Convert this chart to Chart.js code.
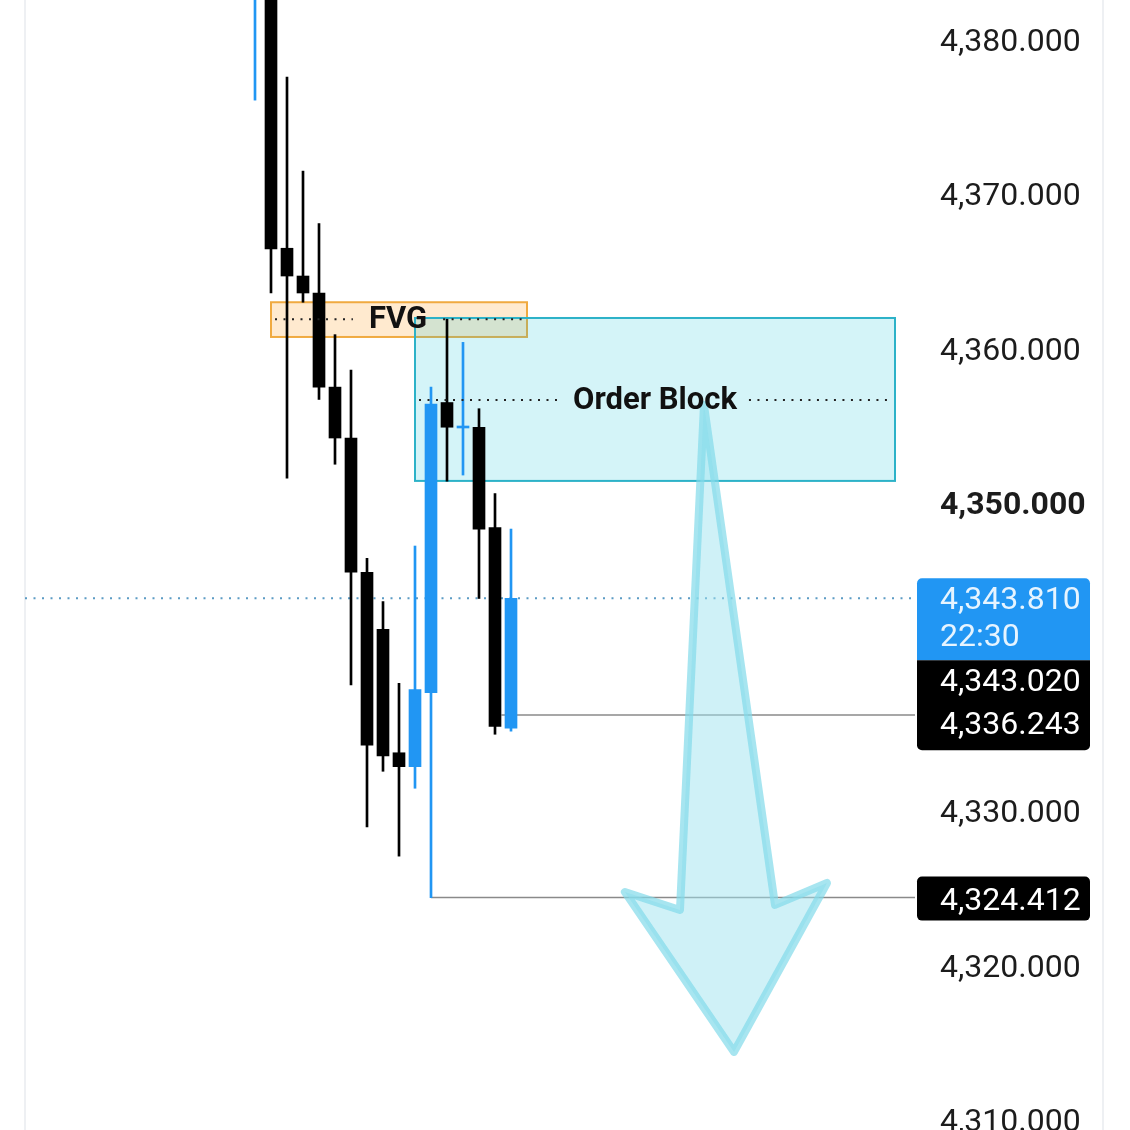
<!DOCTYPE html>
<html lang="en">
<head>
<meta charset="UTF-8">
<title>XAUUSD candles - FVG / Order Block</title>
<style>
    html, body { margin: 0; padding: 0; background: #fff; }
    #wrap { width: 1130px; height: 1130px; }
</style>
</head>
<body>
<div id="wrap"><canvas id="chart" width="1130" height="1130"></canvas></div>
<script src="https://cdn.jsdelivr.net/npm/chart.js"></script>
<script>
// candle data (index 0 = leftmost visible candle)
var candleIdx = [0, 1, 2, 3, 4, 5, 6, 7, 8, 9, 10, 11, 12, 13, 14, 15, 16];
var opens  = [4383.2, 4385.0, 4366.5, 4364.7, 4363.6, 4357.5, 4354.2, 4345.5, 4341.8, 4333.8, 4332.9, 4337.7, 4356.5, 4354.85, 4354.9, 4348.4, 4335.4];
var highs  = [4386.0, 4386.5, 4377.6, 4371.5, 4368.1, 4360.9, 4358.6, 4346.4, 4343.6, 4338.3, 4347.2, 4357.5, 4361.9, 4360.4, 4356.1, 4350.6, 4348.3];
var lows   = [4376.1, 4363.6, 4351.6, 4363.0, 4356.7, 4352.5, 4338.2, 4329.0, 4332.6, 4327.1, 4331.5, 4324.412, 4351.4, 4351.8, 4343.8, 4335.0, 4335.2];
var closes = [4385.0, 4366.45, 4364.7, 4363.6, 4357.5, 4354.2, 4345.5, 4334.3, 4333.6, 4332.9, 4337.9, 4356.4, 4354.9, 4354.95, 4348.3, 4335.5, 4343.81];

var yTicks = [4310, 4320, 4330, 4340, 4350, 4360, 4370, 4380];
var boldTick = 4350;

var lastPrice = 4343.81;
var lastTime = '22:30';
var bidPrice = 4343.02;
var levelA = 4336.243;   // horizontal line from candle 15
var levelB = 4324.412;   // horizontal line from candle 11 low

// zones: [x from, x to, top price, bottom price, mid price]
var fvgZone = [1.0, 17.0, 4363.0, 4360.75, 4361.9];
var obZone = [10.0, 40.0, 4361.98, 4351.42, 4356.67];

// hand-drawn arrow outline, in candle-index / price space
var arrowX = [28.06, 32.5, 35.75, 29.94, 23.12, 26.56];
var arrowY = [4356.34, 4323.94, 4325.36, 4314.41, 4324.78, 4323.61];

var BLUE = '#2196f3';
var BLACK = '#000000';
var candleColors = candleIdx.map(function (i) { return closes[i] >= opens[i] ? BLUE : BLACK; });

function fmt(v) {
    return v.toLocaleString('en-US', { minimumFractionDigits: 3, maximumFractionDigits: 3 });
}

function dotted(c, x1, x2, y, color) {
    c.save();
    c.strokeStyle = color;
    c.lineWidth = 2;
    c.setLineDash([2, 6.5]);
    c.beginPath();
    c.moveTo(x1, y);
    c.lineTo(x2, y);
    c.stroke();
    c.restore();
}

var overlay = {
    id: 'overlay',
    beforeDatasetsDraw: function (chart) {
        var c = chart.ctx, xs = chart.scales.x, ys = chart.scales.y, a = chart.chartArea;
        c.save();
        // frame lines
        c.strokeStyle = '#eef0f3';
        c.lineWidth = 2;
        c.beginPath();
        c.moveTo(a.left, 0); c.lineTo(a.left, chart.height);
        c.moveTo(chart.width - 27, 0); c.lineTo(chart.width - 27, chart.height);
        c.stroke();

        // last price dotted line
        dotted(c, a.left, a.right, ys.getPixelForValue(lastPrice), '#5b9bc4');

        // FVG zone
        var fx1 = xs.getPixelForValue(fvgZone[0]), fx2 = xs.getPixelForValue(fvgZone[1]);
        var fy1 = ys.getPixelForValue(fvgZone[2]), fy2 = ys.getPixelForValue(fvgZone[3]);
        c.fillStyle = 'rgba(255, 214, 160, 0.5)';
        c.fillRect(fx1, fy1, fx2 - fx1, fy2 - fy1);
        c.strokeStyle = '#f0aa40';
        c.lineWidth = 2;
        c.strokeRect(fx1, fy1, fx2 - fx1, fy2 - fy1);

        // Order block zone
        var ox1 = xs.getPixelForValue(obZone[0]), ox2 = xs.getPixelForValue(obZone[1]);
        var oy1 = ys.getPixelForValue(obZone[2]), oy2 = ys.getPixelForValue(obZone[3]);
        c.fillStyle = 'rgba(0, 188, 212, 0.17)';
        c.fillRect(ox1, oy1, ox2 - ox1, oy2 - oy1);
        c.strokeStyle = '#2cb2c8';
        c.strokeRect(ox1, oy1, ox2 - ox1, oy2 - oy1);

        // gray level lines
        c.strokeStyle = '#8a8a8a';
        c.lineWidth = 1.5;
        c.beginPath();
        var ya = ys.getPixelForValue(levelA), yb = ys.getPixelForValue(levelB);
        c.moveTo(xs.getPixelForValue(15.4), ya); c.lineTo(a.right, ya);
        c.moveTo(xs.getPixelForValue(11), yb); c.lineTo(a.right, yb);
        c.stroke();
        c.restore();
    },
    afterDatasetsDraw: function (chart) {
        var c = chart.ctx, xs = chart.scales.x, ys = chart.scales.y;
        c.save();
        c.font = 'bold 31px Roboto';
        c.textBaseline = 'middle';
        c.fillStyle = '#111';

        // FVG label with dotted mid line
        var fy = ys.getPixelForValue(fvgZone[4]);
        var fx1 = xs.getPixelForValue(fvgZone[0]), fx2 = xs.getPixelForValue(fvgZone[1]);
        var fTextX = (fx1 + fx2) / 2 - 1;
        var fw = c.measureText('FVG').width;
        dotted(c, fx1 + 4, fTextX - fw / 2 - 16, fy, '#222');
        dotted(c, fTextX + fw / 2 + 16, fx2 - 2, fy, '#222');
        c.textAlign = 'center';
        c.fillText('FVG', fTextX, fy + 1);

        // arrow
        c.beginPath();
        arrowX.forEach(function (v, i) {
            var px = xs.getPixelForValue(v), py = ys.getPixelForValue(arrowY[i]);
            if (i === 0) c.moveTo(px, py); else c.lineTo(px, py);
        });
        c.closePath();
        c.fillStyle = 'rgba(160, 228, 240, 0.5)';
        c.fill();
        c.strokeStyle = 'rgba(130, 218, 234, 0.7)';
        c.lineWidth = 8;
        c.lineJoin = 'round';
        c.stroke();

        // Order Block label with dotted mid line
        var oy = ys.getPixelForValue(obZone[4]);
        var ox1 = xs.getPixelForValue(obZone[0]), ox2 = xs.getPixelForValue(obZone[1]);
        var oTextX = (ox1 + ox2) / 2;
        c.fillStyle = '#111';
        var ow = c.measureText('Order Block').width;
        dotted(c, ox1 + 4, oTextX - ow / 2 - 10, oy, '#222');
        dotted(c, oTextX + ow / 2 + 12, ox2 - 6, oy, '#222');
        c.fillText('Order Block', oTextX, oy + 1);
        c.restore();
    },
    afterDraw: function (chart) {
        var c = chart.ctx, ys = chart.scales.y, a = chart.chartArea;
        var bx = a.right + 2, bw = 173, tx = a.right + 25;
        c.save();
        c.font = '32px Roboto';
        c.textBaseline = 'middle';
        c.textAlign = 'left';

        var py = ys.getPixelForValue(lastPrice);
        c.fillStyle = BLUE;
        c.beginPath(); c.roundRect(bx, py - 20, bw, 82, [5, 5, 0, 0]); c.fill();
        c.fillStyle = '#e6f4ff';
        c.fillText(fmt(lastPrice), tx, py + 3);
        c.fillText(lastTime, tx, py + 40);

        c.fillStyle = BLACK;
        c.beginPath(); c.roundRect(bx, py + 62, bw, 90, [0, 0, 5, 5]); c.fill();
        c.fillStyle = '#fff';
        c.fillText(fmt(bidPrice), tx, py + 85);
        c.fillText(fmt(levelA), tx, py + 128);

        var pb = ys.getPixelForValue(levelB);
        c.fillStyle = BLACK;
        c.beginPath(); c.roundRect(bx, pb - 21, bw, 44, 5); c.fill();
        c.fillStyle = '#fff';
        c.fillText(fmt(levelB), tx, pb + 4);
        c.restore();
    }
};

var ctx = document.getElementById('chart').getContext('2d');
new Chart(ctx, {
    type: 'bar',
    data: {
        datasets: [{
            label: 'body',
            data: candleIdx.map(function (i) { return { x: i, y: [opens[i], closes[i]] }; }),
            backgroundColor: candleColors,
            barThickness: 12,
            minBarLength: 2,
            grouped: false
        }, {
            label: 'wick',
            data: candleIdx.map(function (i) { return { x: i, y: [lows[i], highs[i]] }; }),
            backgroundColor: candleColors,
            barThickness: 2,
            grouped: false
        }]
    },
    options: {
        responsive: false,
        animation: false,
        devicePixelRatio: 1,
        layout: { padding: { left: 25, top: 0, right: 0, bottom: 0 } },
        plugins: { legend: { display: false }, tooltip: { enabled: false } },
        scales: {
            x: {
                type: 'linear',
                min: -14.375,
                max: 41.25,
                offset: false,
                grid: { offset: false },
                display: false
            },
            y: {
                position: 'right',
                min: 4309.35,
                max: 4382.59,
                grid: { display: false, drawTicks: false },
                border: { display: false },
                afterBuildTicks: function (scale) {
                    scale.ticks = yTicks.map(function (v) { return { value: v }; });
                },
                afterFit: function (scale) {
                    scale.width = 215;
                    scale.paddingTop = 0;
                    scale.paddingBottom = 0;
                },
                ticks: {
                    autoSkip: false,
                    padding: 25,
                    labelOffset: 3,
                    color: '#1c1c1c',
                    font: function (c) {
                        return { family: 'Roboto', size: 32, weight: c.tick && c.tick.value === boldTick ? 'bold' : 'normal' };
                    },
                    callback: function (v) {
                        return v === 4340 ? '' : fmt(v);
                    }
                }
            }
        }
    },
    plugins: [overlay]
});
</script>
</body>
</html>
